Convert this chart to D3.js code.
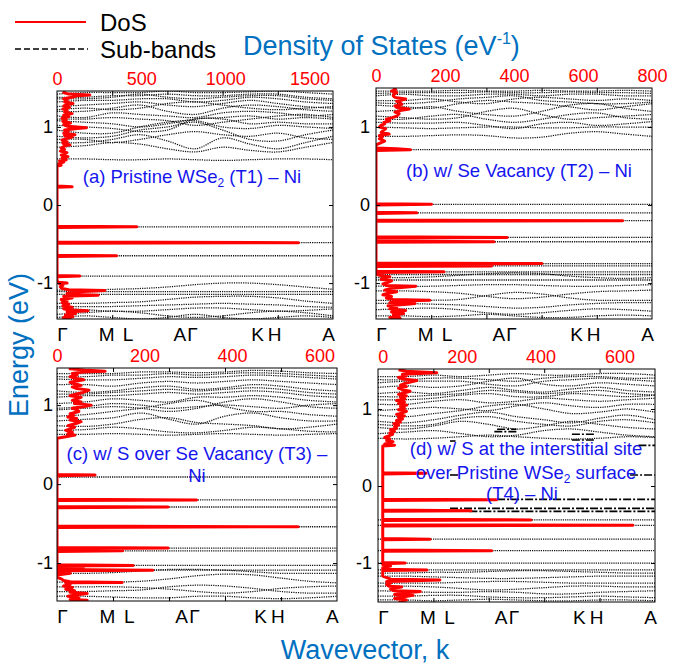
<!DOCTYPE html>
<html>
<head>
<meta charset="utf-8">
<script src="https://cdn.jsdelivr.net/npm/d3@7/dist/d3.min.js"></script>
<style>
  body { margin: 0; background: #fff; }
  svg text { font-family: "Liberation Sans", Arial, sans-serif; }
</style>
</head>
<body>
<svg id="chart" width="683" height="666"></svg>
<script>
// k-path sample points (fraction of path) for band curves
var kNodes = [0, 0.1, 0.2, 0.3, 0.4, 0.5, 0.6, 0.7, 0.8, 0.9, 1.0];
var kTickLabels = ["Γ", "M", "L", "A", "Γ", "K", "H", "A"];
var kTickPos = [0.018, 0.178, 0.256, 0.443, 0.489, 0.725, 0.787, 0.982];
var kInnerTicks = [0.2, 0.4, 0.6, 0.8];
var energyTicks = [-1, 0, 1];

// ---- (a) Pristine WSe2 (T1) - Ni
var dosTicksA = [0, 500, 1000, 1500];
var dosDomainA = [0, 1640];
var energyDomainA = [-1.46, 1.46];
var dosA = [[-1.46,30],[-1.45,80],[-1.44,40],[-1.43,95],[-1.41,50],[-1.39,110],[-1.37,60],[-1.355,184],[-1.345,70],[-1.33,40],[-1.31,90],[-1.29,35],[-1.27,70],[-1.25,30],[-1.23,60],[-1.21,25],[-1.19,90],[-1.17,40],[-1.155,245],[-1.145,90],[-1.13,60],[-1.11,130],[-1.095,284],[-1.085,70],[-1.07,30],[-1.05,20],[-1.03,35],[-1.01,15],[-1.0,60],[-0.99,10],[-0.97,0],
  [-0.918,0],[-0.91,136],[-0.902,0],[-0.658,0],[-0.65,354],[-0.642,0],[-0.491,0],[-0.483,1435],[-0.475,0],
  [-0.288,0],[-0.28,474],[-0.272,0],[0.227,0],[0.235,90],[0.243,0],
  [0.50,0],[0.51,25],[0.53,10],[0.55,40],[0.565,15],[0.58,55],[0.60,30],[0.62,65],[0.64,25],[0.66,45],[0.67,59],[0.69,20],[0.71,45],[0.73,25],[0.76,50],[0.77,77],[0.79,35],[0.81,60],[0.83,30],[0.85,55],[0.87,90],[0.89,45],[0.90,107],[0.92,40],[0.94,65],[0.96,45],[0.98,120],[0.99,175],[1.01,60],[1.03,40],[1.05,80],[1.07,35],[1.09,55],[1.11,30],[1.13,70],[1.15,40],[1.17,90],[1.19,45],[1.21,60],[1.23,35],[1.25,75],[1.27,40],[1.29,70],[1.30,95],[1.32,45],[1.34,60],[1.36,40],[1.38,90],[1.40,120],[1.41,195],[1.42,70],[1.44,40],[1.46,50]];
var flatBandsA = [-0.28, -0.483, -0.65, -0.91, -1.11, -1.145];
var bandsA = [
  [0.59,0.59,0.58,0.58,0.59,0.58,0.57,0.58,0.59,0.59,0.58],
  [0.74,0.76,0.80,0.78,0.72,0.68,0.74,0.70,0.68,0.74,0.80],
  [0.80,0.80,0.84,0.90,0.82,0.72,0.86,0.78,0.72,0.80,0.88],
  [0.84,0.84,0.80,0.84,0.90,0.94,0.90,0.88,0.92,0.86,0.84],
  [0.88,0.86,0.88,0.96,1.00,1.06,0.96,0.84,0.82,0.90,0.96],
  [0.96,0.92,0.92,1.00,1.06,1.08,1.00,0.98,1.02,1.00,0.98],
  [1.02,1.00,0.98,0.94,0.96,1.10,1.10,1.04,1.06,1.04,1.04],
  [1.08,1.06,1.04,1.00,1.04,1.10,1.12,1.14,1.10,1.12,1.10],
  [1.10,1.10,1.12,1.10,1.08,1.02,1.06,1.10,1.14,1.16,1.12],
  [1.14,1.12,1.18,1.16,1.14,1.12,1.18,1.20,1.18,1.14,1.16],
  [1.20,1.20,1.24,1.28,1.20,1.16,1.24,1.28,1.26,1.22,1.20],
  [1.22,1.24,1.22,1.24,1.30,1.32,1.28,1.24,1.22,1.24,1.26],
  [1.26,1.28,1.30,1.32,1.28,1.26,1.30,1.34,1.30,1.26,1.24],
  [1.32,1.34,1.34,1.36,1.36,1.32,1.34,1.38,1.36,1.32,1.30],
  [1.36,1.36,1.38,1.42,1.38,1.36,1.38,1.40,1.40,1.36,1.34],
  [1.38,1.38,1.40,1.40,1.42,1.40,1.40,1.42,1.42,1.38,1.36],
  [1.42,1.44,1.44,1.44,1.46,1.44,1.44,1.45,1.46,1.44,1.42],
  [-1.09,-1.09,-1.08,-1.07,-1.05,-1.02,-1.00,-1.00,-1.02,-1.05,-1.08],
  [-1.26,-1.26,-1.25,-1.24,-1.21,-1.18,-1.17,-1.17,-1.19,-1.23,-1.26],
  [-1.30,-1.30,-1.30,-1.29,-1.28,-1.27,-1.26,-1.27,-1.28,-1.30,-1.31],
  [-1.32,-1.34,-1.36,-1.36,-1.34,-1.32,-1.32,-1.34,-1.36,-1.35,-1.33],
  [-1.40,-1.38,-1.36,-1.38,-1.42,-1.44,-1.42,-1.38,-1.36,-1.38,-1.42],
  [-1.44,-1.42,-1.44,-1.46,-1.44,-1.40,-1.44,-1.46,-1.44,-1.42,-1.44]
];

// ---- (b) w/ Se Vacancy (T2) - Ni
var dosTicksB = [0, 200, 400, 600, 800];
var dosDomainB = [0, 800];
var energyDomainB = [-1.46, 1.5];
var dosB = [[-1.46,50],[-1.45,70],[-1.44,40],[-1.43,67],[-1.41,50],[-1.39,80],[-1.37,45],[-1.35,86],[-1.33,40],[-1.31,60],[-1.29,35],[-1.27,90],[-1.26,113],[-1.25,40],[-1.23,70],[-1.22,156],[-1.21,50],[-1.19,30],[-1.17,45],[-1.15,20],[-1.13,35],[-1.11,60],[-1.09,25],[-1.07,40],[-1.05,90],[-1.04,115],[-1.03,30],[-1.01,20],[-0.99,35],[-0.97,45],[-0.95,15],[-0.93,30],[-0.92,40],[-0.90,10],[-0.88,0],
  [-0.863,0],[-0.855,197],[-0.847,0],[-0.788,0],[-0.78,335],[-0.772,0],[-0.758,0],[-0.75,481],[-0.742,0],
  [-0.478,0],[-0.47,342],[-0.462,0],[-0.423,0],[-0.415,380],[-0.407,0],[-0.208,0],[-0.2,715],[-0.192,0],
  [-0.108,0],[-0.1,118],[-0.092,0],[0.002,0],[0.01,161],[0.018,0],
  [0.70,0],[0.71,100],[0.72,60],[0.73,0],
  [0.77,0],[0.79,10],[0.82,25],[0.85,10],[0.87,18],[0.89,10],[0.91,38],[0.93,15],[0.95,20],[0.98,28],[1.00,10],[1.02,14],[1.04,25],[1.06,23],[1.08,40],[1.10,30],[1.12,47],[1.14,60],[1.17,67],[1.19,55],[1.21,70],[1.23,96],[1.25,60],[1.27,55],[1.29,75],[1.31,70],[1.33,60],[1.36,86],[1.38,55],[1.40,50],[1.42,52],[1.44,60],[1.46,45],[1.48,57],[1.50,50]];
var flatBandsB = [0.71, 0.01, -0.10, -0.20, -0.415, -0.47, -0.75, -0.78, -0.855, -0.89, -0.96];
var bandsB = [
  [0.88,0.88,0.89,0.90,0.89,0.86,0.87,0.92,0.94,0.91,0.88],
  [1.00,0.99,0.98,0.99,1.00,1.00,0.99,0.99,1.00,1.00,1.00],
  [1.06,1.05,1.05,1.06,1.02,0.98,1.04,1.06,1.02,1.04,1.07],
  [1.10,1.10,1.14,1.16,1.10,1.06,1.10,1.16,1.18,1.12,1.10],
  [1.14,1.12,1.10,1.12,1.20,1.24,1.16,1.10,1.12,1.14,1.16],
  [1.20,1.22,1.26,1.20,1.16,1.14,1.20,1.28,1.30,1.24,1.20],
  [1.28,1.26,1.24,1.30,1.34,1.32,1.30,1.26,1.22,1.26,1.30],
  [1.31,1.30,1.32,1.36,1.38,1.40,1.34,1.32,1.30,1.30,1.32],
  [1.34,1.34,1.36,1.32,1.30,1.36,1.38,1.36,1.34,1.36,1.34],
  [1.40,1.42,1.40,1.40,1.42,1.42,1.40,1.42,1.42,1.40,1.40],
  [1.43,1.44,1.44,1.44,1.45,1.44,1.44,1.45,1.44,1.44,1.43],
  [1.46,1.46,1.46,1.47,1.46,1.46,1.47,1.46,1.46,1.47,1.46],
  [-0.93,-0.93,-0.92,-0.90,-0.88,-0.87,-0.88,-0.91,-0.93,-0.94,-0.93],
  [-1.04,-1.04,-1.04,-1.03,-1.02,-1.02,-1.03,-1.04,-1.04,-1.03,-1.02],
  [-1.10,-1.10,-1.11,-1.13,-1.17,-1.20,-1.18,-1.14,-1.11,-1.10,-1.09],
  [-1.22,-1.22,-1.22,-1.21,-1.16,-1.12,-1.14,-1.19,-1.22,-1.22,-1.22],
  [-1.26,-1.26,-1.27,-1.28,-1.30,-1.32,-1.31,-1.28,-1.26,-1.25,-1.25],
  [-1.34,-1.33,-1.32,-1.34,-1.38,-1.40,-1.38,-1.35,-1.33,-1.34,-1.36],
  [-1.42,-1.42,-1.43,-1.42,-1.40,-1.42,-1.44,-1.44,-1.42,-1.41,-1.42]
];

// ---- (c) w/ S over Se Vacancy (T3) - Ni
var dosTicksC = [0, 200, 400, 600];
var dosDomainC = [0, 640];
var energyDomainC = [-1.48, 1.47];
var dosC = [[-1.48,40],[-1.47,69],[-1.46,30],[-1.44,50],[-1.42,25],[-1.40,45],[-1.385,69],[-1.37,30],[-1.35,40],[-1.33,20],[-1.31,35],[-1.29,15],[-1.27,30],[-1.25,20],[-1.245,149],[-1.235,30],[-1.22,15],[-1.20,10],[-1.18,0],
  [-1.15,0],[-1.13,30],[-1.12,0],[-1.098,0],[-1.09,219],[-1.082,0],[-1.065,0],[-1.06,60],[-1.05,0],[-1.038,0],[-1.03,174],[-1.022,0],
  [-0.853,0],[-0.845,150],[-0.837,0],[-0.818,0],[-0.81,254],[-0.802,0],[-0.548,0],[-0.54,551],[-0.532,0],
  [-0.298,0],[-0.29,254],[-0.282,0],[-0.208,0],[-0.20,319],[-0.192,0],[0.106,0],[0.114,87],[0.122,0],
  [0.58,0],[0.60,20],[0.62,41],[0.64,25],[0.66,35],[0.68,20],[0.70,30],[0.72,40],[0.74,25],[0.77,45],[0.79,55],[0.81,30],[0.83,45],[0.85,25],[0.87,38],[0.89,30],[0.92,50],[0.94,46],[0.96,35],[0.98,60],[1.00,78],[1.02,40],[1.04,55],[1.06,35],[1.08,45],[1.10,55],[1.12,30],[1.14,45],[1.16,60],[1.19,73],[1.21,45],[1.23,35],[1.25,55],[1.27,40],[1.29,30],[1.32,61],[1.34,40],[1.36,30],[1.38,46],[1.40,35],[1.42,60],[1.43,110],[1.44,70],[1.46,30],[1.47,40]];
var flatBandsC = [0.09, -0.20, -0.29, -0.54, -0.81, -0.845, -1.03, -1.09];
var bandsC = [
  [0.63,0.63,0.64,0.63,0.62,0.63,0.64,0.63,0.62,0.63,0.64],
  [0.68,0.69,0.72,0.70,0.66,0.65,0.68,0.72,0.70,0.67,0.66],
  [0.74,0.73,0.76,0.82,0.84,0.78,0.76,0.74,0.70,0.72,0.76],
  [0.80,0.82,0.84,0.90,0.82,0.76,0.86,0.90,0.84,0.80,0.80],
  [0.86,0.88,0.92,0.96,1.02,1.06,0.98,0.92,0.92,0.88,0.86],
  [0.94,0.96,0.98,0.96,0.92,0.96,1.04,1.08,1.04,0.98,0.96],
  [0.96,0.98,1.02,1.00,0.96,0.98,1.00,0.98,0.96,1.00,1.02],
  [1.02,1.04,1.08,1.06,1.04,1.10,1.10,1.12,1.10,1.06,1.04],
  [1.10,1.12,1.12,1.14,1.16,1.14,1.16,1.18,1.16,1.12,1.10],
  [1.14,1.14,1.16,1.18,1.20,1.18,1.20,1.22,1.20,1.16,1.14],
  [1.18,1.16,1.18,1.22,1.24,1.20,1.22,1.26,1.24,1.20,1.18],
  [1.26,1.26,1.24,1.28,1.30,1.28,1.30,1.32,1.30,1.28,1.26],
  [1.33,1.32,1.32,1.34,1.36,1.35,1.36,1.38,1.37,1.35,1.33],
  [1.36,1.36,1.38,1.38,1.40,1.38,1.40,1.41,1.40,1.38,1.36],
  [1.40,1.40,1.40,1.42,1.42,1.41,1.42,1.44,1.43,1.41,1.40],
  [-1.13,-1.13,-1.12,-1.10,-1.08,-1.08,-1.09,-1.11,-1.13,-1.13,-1.13],
  [-1.24,-1.24,-1.24,-1.23,-1.20,-1.16,-1.14,-1.15,-1.19,-1.23,-1.25],
  [-1.30,-1.30,-1.30,-1.31,-1.33,-1.36,-1.38,-1.36,-1.32,-1.30,-1.29],
  [-1.36,-1.36,-1.35,-1.34,-1.30,-1.28,-1.29,-1.32,-1.36,-1.38,-1.38],
  [-1.42,-1.42,-1.43,-1.44,-1.44,-1.42,-1.42,-1.44,-1.45,-1.44,-1.42]
];

// ---- (d) w/ S at the interstitial site over Pristine WSe2 surface (T4) - Ni
var dosTicksD = [0, 200, 400, 600];
var dosDomainD = [-12, 690];
var energyDomainD = [-1.506, 1.519];
var dosD = [[-1.50,40],[-1.48,60],[-1.46,30],[-1.44,50],[-1.42,77],[-1.41,30],[-1.39,55],[-1.37,95],[-1.36,30],[-1.34,20],[-1.32,35],[-1.31,48],[-1.30,15],[-1.28,10],[-1.26,20],[-1.24,10],[-1.22,145],[-1.21,20],[-1.19,10],[-1.17,0],
  [-1.098,0],[-1.09,112],[-1.082,0],[-1.06,0],[-1.04,20],[-1.02,0],[-1.008,0],[-1.0,57],[-0.992,0],
  [-0.848,0],[-0.84,276],[-0.832,0],[-0.698,0],[-0.69,120],[-0.682,0],[-0.518,0],[-0.51,634],[-0.502,0],
  [-0.448,0],[-0.44,376],[-0.432,0],[-0.328,0],[-0.32,224],[-0.312,0],[-0.188,0],[-0.18,289],[-0.172,0],
  [0.157,0],[0.165,110],[0.173,0],
  [0.52,0],[0.53,30],[0.545,5],[0.56,20],[0.575,26],[0.59,10],[0.61,18],[0.63,5],[0.65,15],[0.67,25],[0.69,18],[0.71,30],[0.73,20],[0.75,35],[0.77,30],[0.79,40],[0.81,28],[0.83,45],[0.85,35],[0.87,50],[0.89,40],[0.91,55],[0.93,35],[0.95,50],[0.97,60],[0.99,40],[1.01,55],[1.03,45],[1.05,61],[1.07,40],[1.09,55],[1.11,35],[1.13,56],[1.15,45],[1.17,60],[1.19,40],[1.21,55],[1.23,69],[1.25,50],[1.27,40],[1.29,60],[1.31,45],[1.33,55],[1.35,70],[1.37,86],[1.39,50],[1.41,40],[1.43,60],[1.45,50],[1.47,137],[1.49,60],[1.51,40]];
var flatBandsD = [-0.44, -0.51, -0.69, -0.84, -1.0, -1.09];
var bandsD = [
  [0.62,0.61,0.62,0.64,0.66,0.64,0.62,0.61,0.62,0.64,0.63],
  [0.68,0.70,0.72,0.68,0.64,0.66,0.72,0.74,0.70,0.66,0.64],
  [0.76,0.74,0.78,0.84,0.80,0.74,0.78,0.84,0.80,0.76,0.74],
  [0.80,0.78,0.80,0.88,0.90,0.84,0.80,0.78,0.84,0.86,0.82],
  [0.84,0.82,0.86,0.92,0.96,0.90,0.86,0.82,0.88,0.92,0.86],
  [0.92,0.90,0.94,0.98,1.04,1.06,1.00,0.94,0.96,1.00,0.96],
  [0.98,1.00,1.02,1.00,0.98,1.04,1.08,1.04,1.02,1.06,1.06],
  [1.06,1.06,1.10,1.12,1.08,1.10,1.14,1.12,1.10,1.12,1.14],
  [1.12,1.12,1.14,1.18,1.20,1.16,1.16,1.20,1.18,1.16,1.18],
  [1.16,1.16,1.18,1.20,1.24,1.22,1.20,1.22,1.24,1.20,1.18],
  [1.20,1.22,1.20,1.24,1.28,1.24,1.22,1.26,1.28,1.24,1.22],
  [1.28,1.30,1.28,1.30,1.36,1.40,1.32,1.30,1.34,1.32,1.30],
  [1.34,1.36,1.36,1.36,1.32,1.30,1.36,1.38,1.40,1.38,1.36],
  [1.38,1.38,1.40,1.40,1.38,1.36,1.40,1.42,1.42,1.40,1.40],
  [1.42,1.42,1.44,1.42,1.44,1.46,1.44,1.44,1.46,1.46,1.44],
  [-1.13,-1.13,-1.12,-1.12,-1.11,-1.10,-1.10,-1.11,-1.12,-1.13,-1.13],
  [-1.17,-1.17,-1.18,-1.19,-1.20,-1.20,-1.19,-1.18,-1.17,-1.17,-1.17],
  [-1.26,-1.26,-1.26,-1.25,-1.24,-1.24,-1.25,-1.26,-1.26,-1.26,-1.26],
  [-1.30,-1.30,-1.31,-1.33,-1.35,-1.34,-1.32,-1.30,-1.30,-1.31,-1.31],
  [-1.36,-1.37,-1.38,-1.38,-1.37,-1.38,-1.40,-1.40,-1.38,-1.37,-1.36],
  [-1.43,-1.43,-1.42,-1.42,-1.44,-1.45,-1.45,-1.44,-1.43,-1.44,-1.45],
  [-1.48,-1.48,-1.49,-1.48,-1.47,-1.48,-1.49,-1.49,-1.48,-1.48,-1.49]
];
// dashed sub-band segments: [energy, kStart, kEnd]
var subBandsD = [[0.736,0.43,0.50],[0.706,0.42,0.50],[0.671,0.70,0.78],[0.597,0.70,0.78],[0.584,0.26,0.28],[0.528,0.94,1.0],[0.143,0.91,1.0],[0.143,0.26,0.29],[-0.173,0.43,1.0],[-0.29,0.26,1.0],[-0.33,0.33,1.0]];

var panels = [
  {id: "a", box: {x: 57, y: 91, w: 276, h: 228}, dos: dosA, dosDomain: dosDomainA, dosTicks: dosTicksA,
   eDomain: energyDomainA, flat: flatBandsA, bands: bandsA, sub: [], labelPad: 4,
   note: [{t: ["(a) Pristine WSe", "2", " (T1) – Ni"], x: 192, y: 183}]},
  {id: "b", box: {x: 376, y: 88, w: 276, h: 231}, dos: dosB, dosDomain: dosDomainB, dosTicks: dosTicksB,
   eDomain: energyDomainB, flat: flatBandsB, bands: bandsB, sub: [], labelPad: 6,
   note: [{t: ["(b) w/ Se Vacancy (T2) – Ni"], x: 519, y: 177}]},
  {id: "c", box: {x: 57, y: 368, w: 280, h: 233}, dos: dosC, dosDomain: dosDomainC, dosTicks: dosTicksC,
   eDomain: energyDomainC, flat: flatBandsC, bands: bandsC, sub: [], labelPad: 4,
   note: [{t: ["(c) w/ S over Se Vacancy (T3) –"], x: 197, y: 460}, {t: ["Ni"], x: 197, y: 482}]},
  {id: "d", box: {x: 378, y: 369, w: 277, h: 233}, dos: dosD, dosDomain: dosDomainD, dosTicks: dosTicksD,
   eDomain: energyDomainD, flat: flatBandsD, bands: bandsD, sub: subBandsD, labelPad: 6,
   note: [{t: ["(d) w/ S at the interstitial site"], x: 526, y: 455},
          {t: ["over Pristine WSe", "2", " surface"], x: 526, y: 479},
          {t: ["(T4) – Ni"], x: 522, y: 500}]}
];

var svg = d3.select("#chart");
var RED = "#ff0000", BLUE = "#0070c0", NOTE = "#1515ee";

var drawPanel = function (p) {
  var b = p.box;
  var g = svg.append("g").attr("class", "panel-" + p.id);
  var kx = d3.scaleLinear().domain([0, 1]).range([b.x, b.x + b.w]);
  var ey = d3.scaleLinear().domain(p.eDomain).range([b.y + b.h, b.y]);
  var dx = d3.scaleLinear().domain(p.dosDomain).range([b.x, b.x + b.w]);

  g.append("clipPath").attr("id", "clip-" + p.id)
    .append("rect").attr("x", b.x).attr("y", b.y).attr("width", b.w).attr("height", b.h);
  var plot = g.append("g").attr("clip-path", "url(#clip-" + p.id + ")");

  var bandLine = d3.line()
      .x(function (d, i) { return kx(kNodes[i]); })
      .y(function (d) { return ey(d); })
      .curve(d3.curveCatmullRom);

  plot.selectAll("path.flat").data(p.flat).enter()
    .append("path").attr("class", "flat")
      .attr("d", function (e) { return bandLine(kNodes.map(function () { return e; })); })
      .attr("fill", "none").attr("stroke", "#111").attr("stroke-width", 1.3)
      .attr("stroke-dasharray", "1.2,1");

  plot.selectAll("path.band").data(p.bands).enter()
    .append("path").attr("class", "band")
      .attr("d", bandLine)
      .attr("fill", "none").attr("stroke", "#111").attr("stroke-width", 1.25)
      .attr("stroke-dasharray", "1.2,1.1");

  plot.selectAll("line.sub").data(p.sub).enter()
    .append("line").attr("class", "sub")
      .attr("x1", function (d) { return kx(d[1]); })
      .attr("x2", function (d) { return kx(d[2]); })
      .attr("y1", function (d) { return ey(d[0]); })
      .attr("y2", function (d) { return ey(d[0]); })
      .attr("stroke", "#000").attr("stroke-width", 1.6)
      .attr("stroke-dasharray", "8,2,2,2");

  var dosLine = d3.line()
      .x(function (d) { return dx(d[1]); })
      .y(function (d) { return ey(d[0]); });
  plot.append("path").datum(p.dos)
    .attr("d", dosLine)
    .attr("fill", "none").attr("stroke", RED).attr("stroke-width", 3)
    .attr("stroke-linejoin", "round");

  g.append("rect").attr("x", b.x).attr("y", b.y).attr("width", b.w).attr("height", b.h)
    .attr("fill", "none").attr("stroke", "#000").attr("stroke-width", 1);

  // energy axis (left labels) and mirrored ticks on right
  g.append("g").attr("transform", "translate(" + b.x + ",0)")
    .call(d3.axisLeft(ey).tickValues(energyTicks).tickSize(-4).tickPadding(p.labelPad)
      .tickFormat(function (d) { return String(d); }))
    .call(function (a) { a.select(".domain").remove(); })
    .selectAll("text").attr("font-size", 18).attr("fill", "#000");
  g.append("g").attr("transform", "translate(" + (b.x + b.w) + ",0)")
    .call(d3.axisRight(ey).tickValues(energyTicks).tickSize(-4).tickFormat(""))
    .call(function (a) { a.select(".domain").remove(); });

  // DoS axis on top
  g.append("g").attr("transform", "translate(0," + b.y + ")")
    .call(d3.axisTop(dx).tickValues(p.dosTicks).tickSize(0).tickPadding(6).tickFormat(d3.format("d")))
    .call(function (a) { a.select(".domain").remove(); })
    .selectAll("text").attr("font-size", 18).attr("fill", RED);

  // inner ticks top and bottom
  g.append("g").attr("transform", "translate(0," + b.y + ")")
    .call(d3.axisTop(kx).tickValues(kInnerTicks).tickSize(-4).tickFormat(""))
    .call(function (a) { a.select(".domain").remove(); });
  g.append("g").attr("transform", "translate(0," + (b.y + b.h) + ")")
    .call(d3.axisBottom(kx).tickValues(kInnerTicks).tickSize(-4).tickFormat(""))
    .call(function (a) { a.select(".domain").remove(); });

  // k-path labels
  g.append("g").attr("transform", "translate(0," + (b.y + b.h) + ")")
    .call(d3.axisBottom(kx).tickValues(kTickPos).tickSize(0).tickPadding(9)
      .tickFormat(function (d, i) { return kTickLabels[i]; }))
    .call(function (a) { a.select(".domain").remove(); })
    .selectAll("text").attr("font-size", 19).attr("fill", "#000");

  // panel annotation
  p.note.forEach(function (n) {
    var t = g.append("text").attr("x", n.x).attr("y", n.y)
      .attr("text-anchor", "middle").attr("font-size", 18.5).attr("fill", NOTE);
    n.t.forEach(function (s, i) {
      var ts = t.append("tspan").text(s);
      if (i === 1) { ts.attr("font-size", 12).attr("dy", 4); }
      if (i === 2) { ts.attr("dy", -4); }
    });
  });
};

panels.forEach(drawPanel);

// legend
var legend = svg.append("g").attr("class", "legend");
legend.append("line").attr("x1", 15).attr("x2", 86).attr("y1", 22).attr("y2", 22)
  .attr("stroke", RED).attr("stroke-width", 2);
legend.append("text").attr("x", 100).attr("y", 31).attr("font-size", 24).text("DoS");
legend.append("line").attr("x1", 15).attr("x2", 88).attr("y1", 49).attr("y2", 49)
  .attr("stroke", "#000").attr("stroke-width", 1.5).attr("stroke-dasharray", "6,3");
legend.append("text").attr("x", 100).attr("y", 58).attr("font-size", 24).text("Sub-bands");

// titles
var title = svg.append("text").attr("x", 243).attr("y", 55).attr("font-size", 27).attr("fill", BLUE);
title.append("tspan").text("Density of States (eV");
title.append("tspan").attr("font-size", 16).attr("dy", -11).text("-1");
title.append("tspan").attr("dy", 11).text(")");

svg.append("text").attr("transform", "translate(28,345) rotate(-90)")
  .attr("text-anchor", "middle").attr("font-size", 27).attr("fill", BLUE).text("Energy (eV)");
svg.append("text").attr("x", 365).attr("y", 659)
  .attr("text-anchor", "middle").attr("font-size", 27).attr("fill", BLUE).text("Wavevector, k");
</script>
</body>
</html>
